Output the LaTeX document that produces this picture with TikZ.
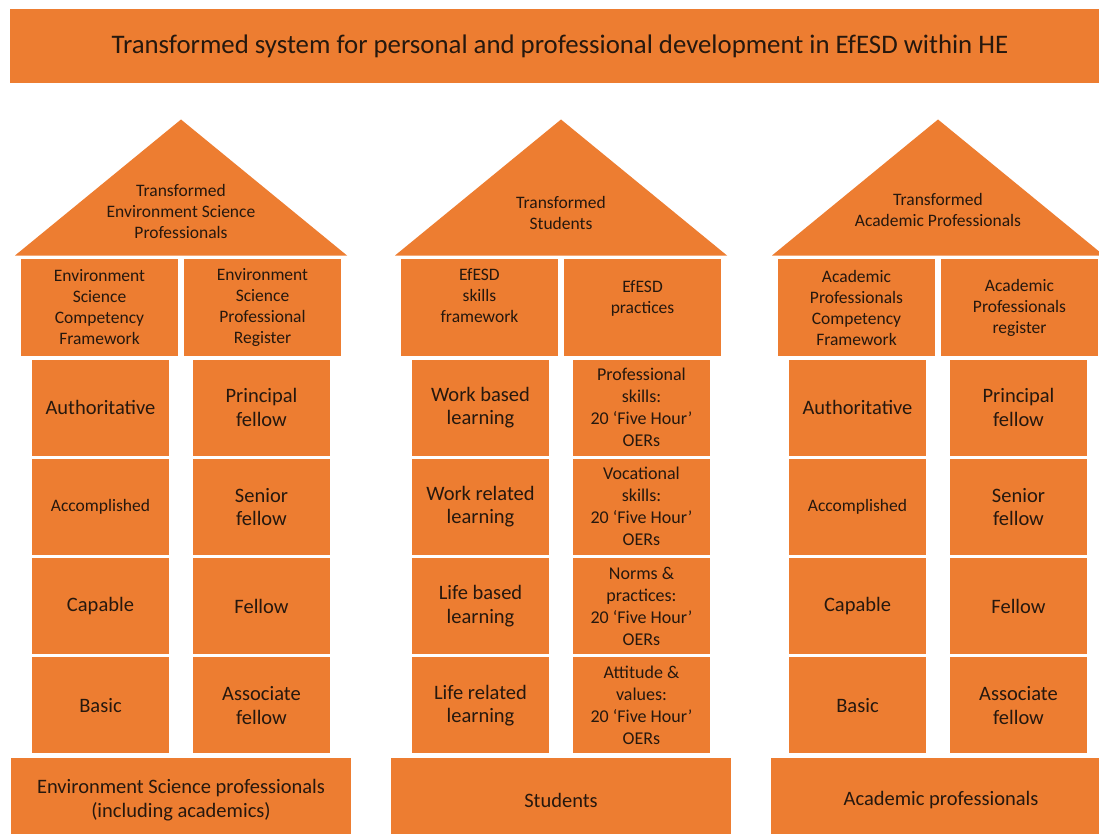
\documentclass[tikz,border=0pt]{standalone}
\usepackage{fontspec}
\setmainfont{Carlito}
\definecolor{brick}{RGB}{237,125,49}
\definecolor{ink}{RGB}{38,24,14}
\begin{document}
\begin{tikzpicture}[x=1pt,y=-1pt,
  block/.style={fill=brick,text=ink,inner sep=0pt,align=center},
  topbox/.style={block,minimum width=157pt,minimum height=97pt,font=\fontsize{17.5}{21}\selectfont},
  pillar/.style={block,minimum width=137pt,minimum height=96pt,font=\fontsize{20.5}{23.5}\selectfont},
  smallpillar/.style={pillar,font=\fontsize{17.5}{21}\selectfont},
  oerbox/.style={pillar,font=\fontsize{18}{22}\selectfont},
  basebox/.style={block,minimum width=340pt,minimum height=84pt,font=\fontsize{20.5}{23.5}\selectfont},
  roofnote/.style={text=ink,align=center,inner sep=0pt,font=\fontsize{17.5}{21}\selectfont}]
\useasboundingbox (0,0) rectangle (1099,834);
\fill[white] (0,0) rectangle (1099,834);

\node[block,minimum width=1100pt,minimum height=74pt,font=\fontsize{26.8}{30}\selectfont] (title) at (560,46)
  {Transformed system for personal and professional development in EfESD within HE};

% roofs
\fill[brick] (15,255.5) -- (181,119.5) -- (347,255.5) -- cycle;
\fill[brick] (395,255.5) -- (561,119.5) -- (727,255.5) -- cycle;
\fill[brick] (772,255.5) -- (938,119.5) -- (1104,255.5) -- cycle;
\node[roofnote] (envRoof) at (181,211) {Transformed\\Environment Science\\Professionals};
\node[roofnote] (stuRoof) at (561,213) {Transformed\\Students};
\node[roofnote] (acaRoof) at (938,210) {Transformed\\Academic Professionals};

% environment science professionals
\node[topbox] (envFrame) at (99.5,307.5) {Environment\\Science\\Competency\\Framework};
\node[topbox] (envReg) at (262.5,307.5) {Environment\\Science\\Professional\\Register};
\node[pillar] (envL1) at (100.5,407.5) {Authoritative};
\node[smallpillar] (envL2) at (100.5,506.8) {Accomplished};
\node[pillar] (envL3) at (100.5,606.1) {Capable};
\node[pillar] (envL4) at (100.5,705.4) {Basic};
\node[pillar] (envR1) at (261.5,407.5) {Principal\\fellow};
\node[pillar] (envR2) at (261.5,506.8) {Senior\\fellow};
\node[pillar] (envR3) at (261.5,606.1) {Fellow};
\node[pillar] (envR4) at (261.5,705.4) {Associate\\fellow};
\node[basebox] (envBase) at (181,800) {Environment Science professionals\\(including academics)};

% students
\node[topbox,text depth=24pt] (stuFrame) at (479.5,307.5) {EfESD\\skills\\framework};
\node[topbox,text depth=20pt] (stuPract) at (642.5,307.5) {EfESD\\practices};
\node[pillar] (stuL1) at (480.5,407.5) {Work based\\learning};
\node[pillar] (stuL2) at (480.5,506.8) {Work related\\learning};
\node[pillar] (stuL3) at (480.5,606.1) {Life based\\learning};
\node[pillar] (stuL4) at (480.5,705.4) {Life related\\learning};
\node[oerbox] (stuR1) at (641.5,407.5) {Professional\\skills:\\20 ‘Five Hour’\\OERs};
\node[oerbox] (stuR2) at (641.5,506.8) {Vocational\\skills:\\20 ‘Five Hour’\\OERs};
\node[oerbox] (stuR3) at (641.5,606.1) {Norms \&\\practices:\\20 ‘Five Hour’\\OERs};
\node[oerbox] (stuR4) at (641.5,705.4) {Attitude \&\\values:\\20 ‘Five Hour’\\OERs};
\node[basebox] (stuBase) at (561,800) {Students};

% academic professionals
\node[topbox] (acaFrame) at (856.5,307.5) {Academic\\Professionals\\Competency\\Framework};
\node[topbox] (acaReg) at (1019.5,307.5) {Academic\\Professionals\\register};
\node[pillar] (acaL1) at (857.5,407.5) {Authoritative};
\node[smallpillar] (acaL2) at (857.5,506.8) {Accomplished};
\node[pillar] (acaL3) at (857.5,606.1) {Capable};
\node[pillar] (acaL4) at (857.5,705.4) {Basic};
\node[pillar] (acaR1) at (1018.5,407.5) {Principal\\fellow};
\node[pillar] (acaR2) at (1018.5,506.8) {Senior\\fellow};
\node[pillar] (acaR3) at (1018.5,606.1) {Fellow};
\node[pillar] (acaR4) at (1018.5,705.4) {Associate\\fellow};
\node[basebox] (acaBase) at (941,800) {Academic professionals};
\end{tikzpicture}
\end{document}
